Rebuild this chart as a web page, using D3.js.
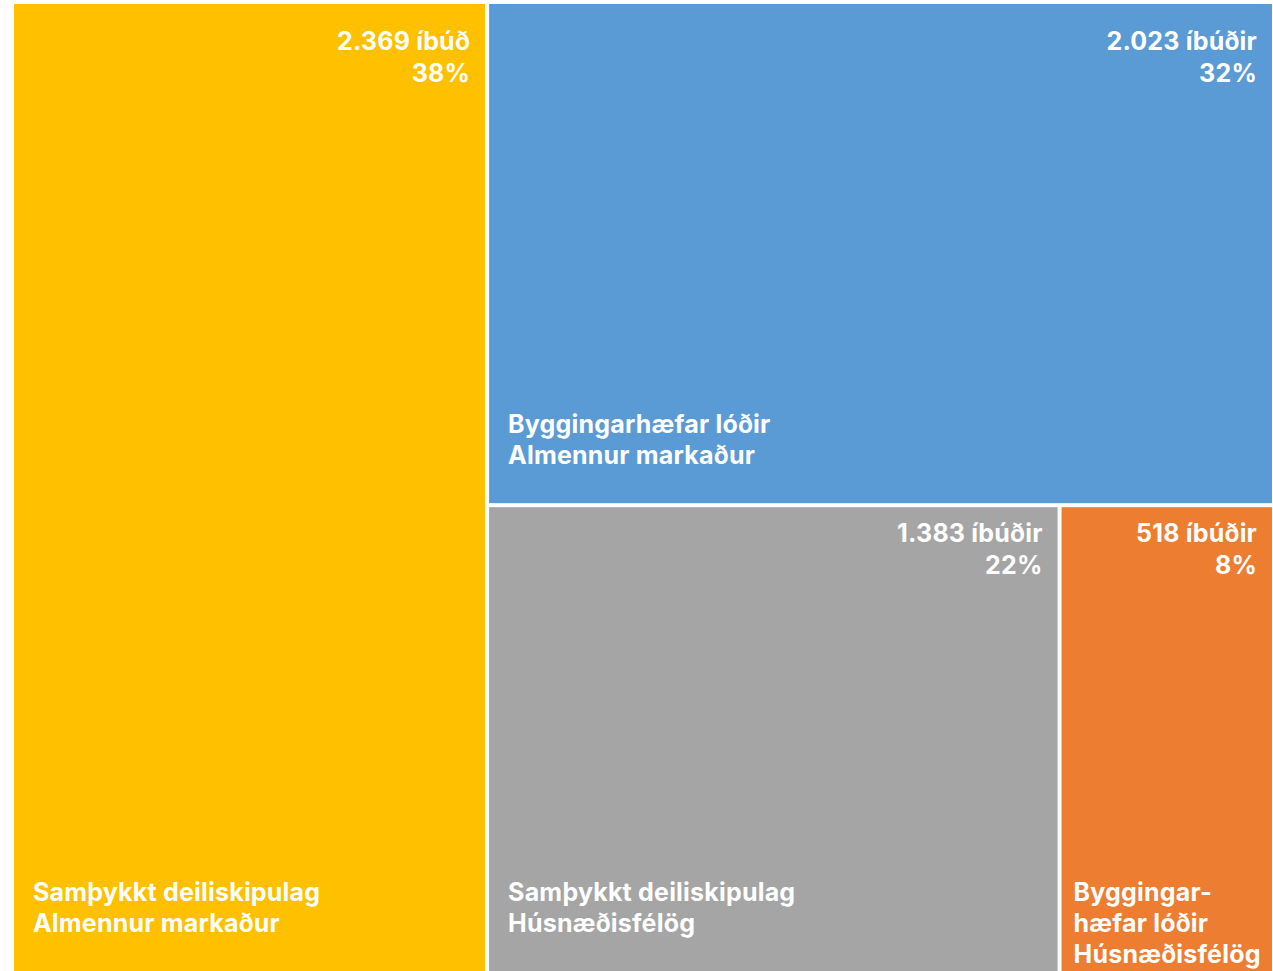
<!DOCTYPE html>
<html>
<head>
<meta charset="utf-8">
<script src="https://cdn.jsdelivr.net/npm/d3@7"></script>
<style>
  body { margin: 0; background: #fff; }
  text { font-family: Inter, "Open Sans", sans-serif; font-weight: 700; fill: #fff; letter-spacing: 0.2px; }
</style>
</head>
<body>
<svg id="tree"></svg>
<script>
// data
var plans = ["Samþykkt deiliskipulag", "Byggingar\u00ADhæfar lóðir", "Samþykkt deiliskipulag", "Byggingar\u00ADhæfar lóðir"];
var markets = ["Almennur markaður", "Almennur markaður", "Húsnæðisfélög", "Húsnæðisfélög"];
var values = [2369, 2023, 1383, 518];
var units = ["íbúð", "íbúðir", "íbúðir", "íbúðir"];
var colors = ["#FFC000", "#5B9BD5", "#A5A5A5", "#ED7D31"];

var width = 1273, height = 971;
var margin = {top: 4, right: 1, bottom: -5, left: 14};

var svg = d3.select("#tree")
    .attr("width", width)
    .attr("height", height);

var is = d3.formatLocale({decimal: ",", thousands: ".", grouping: [3], currency: ["", " kr."]});
var fmtNum = is.format(",d");

var rows = values.map(function(v, i) {
    return {plan: plans[i], market: markets[i], value: v, unit: units[i], color: colors[i]};
});

var root = d3.hierarchy({children: rows})
    .sum(function(d) { return d.value || 0; })
    .sort(function(a, b) { return b.value - a.value; });

d3.treemap()
    .tile(d3.treemapBinary)
    .size([width - margin.left - margin.right, height - margin.top - margin.bottom])
    .paddingInner(4)(root);

var total = root.value;

var g = svg.append("g")
    .attr("transform", "translate(" + margin.left + "," + margin.top + ")");

var leaf = g.selectAll("g.leaf")
    .data(root.leaves())
    .enter().append("g")
    .attr("class", "leaf")
    .attr("transform", function(d) { return "translate(" + d.x0 + "," + d.y0 + ")"; });

leaf.append("rect")
    .attr("width", function(d) { return d.x1 - d.x0; })
    .attr("height", function(d) { return d.y1 - d.y0; })
    .attr("fill", function(d) { return d.data.color; });

var fs = 25, lh = 32;

// value + percent, top right
leaf.each(function(d) {
    var el = d3.select(this);
    var w = d.x1 - d.x0;
    var top = d.y0 < 10 ? 46 : 35;
    var t = el.append("text")
        .attr("text-anchor", "end")
        .style("font-size", fs + "px");
    t.append("tspan").attr("x", w - 15).attr("y", top)
        .text(fmtNum(d.value) + " " + d.data.unit);
    t.append("tspan").attr("x", w - 15).attr("y", top + lh)
        .text(Math.round(d.value / total * 100) + "%");
});

// category label, bottom left, wraps at soft hyphen when too wide
leaf.each(function(d) {
    var el = d3.select(this);
    var w = d.x1 - d.x0;
    var visH = Math.min(d.y1 + margin.top, height) - margin.top - d.y0;
    var pad = w < 300 ? 12 : 19;
    var t = el.append("text").style("font-size", fs + "px");
    var lines = [d.data.plan.replace("\u00AD", ""), d.data.market];
    var probe = t.append("tspan").text(lines[0]);
    if (probe.node().getComputedTextLength() > w - 2 * pad) {
        var parts = d.data.plan.split("\u00AD");
        lines = [parts[0] + "-", parts[1], d.data.market];
    }
    probe.remove();
    var y0 = visH - 70;
    lines.forEach(function(l, i) {
        t.append("tspan").attr("x", pad).attr("y", y0 + i * 31).text(l);
    });
});
</script>
</body>
</html>
